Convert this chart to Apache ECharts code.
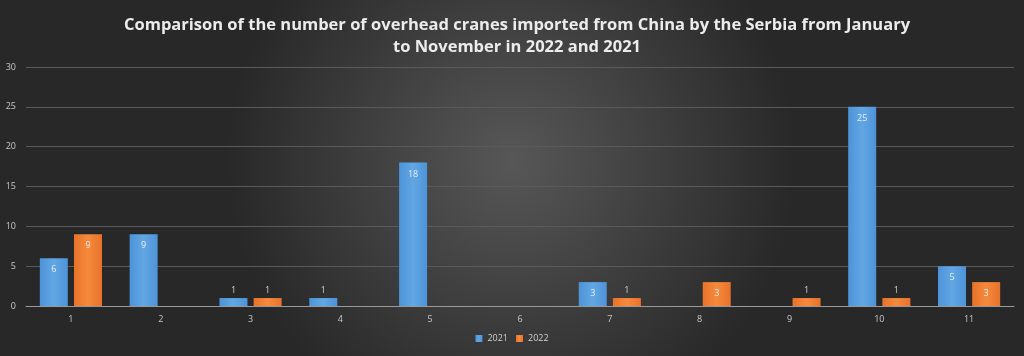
<!DOCTYPE html>
<html><head><meta charset="utf-8">
<script src="https://cdn.jsdelivr.net/npm/echarts@6/dist/echarts.min.js"></script>
<style>html,body{margin:0;padding:0;}#c{width:1024px;height:356px;}</style>
</head><body><div id="c"></div>
<script>
const categories = ['1','2','3','4','5','6','7','8','9','10','11'];
const values2021 = [6, 9, 1, 1, 18, null, 3, null, null, 25, 5];
const values2022 = [9, null, 1, null, null, null, 1, 3, 1, 1, 3];
const yTicks = [0, 5, 10, 15, 20, 25, 30];

function toData(arr){
  return arr.map(v => v == null ? null : {
    value: v,
    label: { position: v < 2 ? 'top' : 'insideTop', distance: v < 2 ? 3 : 7, color: v < 2 ? '#d0d0d0' : '#e8eef5' }
  });
}
const chart = echarts.init(document.getElementById('c'));
chart.setOption({
  backgroundColor: {
    type: 'radial', x: 0.5, y: 0.45, r: 0.8,
    colorStops: [{offset: 0, color: '#575757'}, {offset: 1, color: '#282828'}]
  },
  title: {
    text: 'Comparison of the number of overhead cranes imported from China by the Serbia from January\nto November in 2022 and 2021',
    left: 512, top: 9,
    textAlign: 'center',
    textStyle: { color: '#ececec', fontFamily: 'Open Sans', fontWeight: 'bold', fontSize: 16.5, lineHeight: 22, align: 'center' }
  },
  legend: {
    bottom: 8, left: 'center', itemWidth: 7, itemHeight: 7, itemGap: 8,
    icon: 'rect',
    textStyle: { color: '#d0d0d0', fontSize: 9, fontFamily: 'Open Sans' },
    data: ['2021', '2022']
  },
  grid: { left: 26, right: 10, top: 67, bottom: 50, containLabel: false },
  xAxis: {
    type: 'category', data: categories,
    axisLine: { lineStyle: { color: '#9a9a9a' } },
    axisTick: { show: false },
    axisLabel: { color: '#c8c8c8', fontSize: 9, margin: 9, fontFamily: 'Open Sans' }
  },
  yAxis: {
    type: 'value', min: yTicks[0], max: yTicks[yTicks.length-1], interval: 5,
    axisLine: { show: false }, axisTick: { show: false },
    axisLabel: { color: '#c8c8c8', fontSize: 9, margin: 10, fontFamily: 'Open Sans' },
    splitLine: { lineStyle: { color: '#5a5a5a', width: 1 } }
  },
  series: [
    { name: '2021', type: 'bar', data: toData(values2021), barWidth: 28, barGap: '22%',
      itemStyle: { color: {type:'linear',x:0,y:0,x2:1,y2:0,colorStops:[{offset:0,color:'#4d93d8'},{offset:0.5,color:'#62a6e3'},{offset:1,color:'#4d93d8'}]} },
      label: { show: true, fontSize: 9, fontFamily: 'Open Sans' } },
    { name: '2022', type: 'bar', data: toData(values2022), barWidth: 28,
      itemStyle: { color: {type:'linear',x:0,y:0,x2:1,y2:0,colorStops:[{offset:0,color:'#e8722a'},{offset:0.5,color:'#f58a3c'},{offset:1,color:'#e8722a'}]} },
      label: { show: true, fontSize: 9, fontFamily: 'Open Sans' } }
  ]
});
</script></body></html>
